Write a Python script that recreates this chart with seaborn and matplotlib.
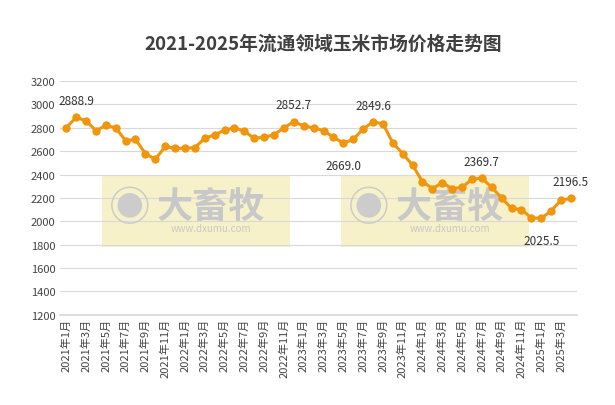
import matplotlib
matplotlib.use("Agg")
import matplotlib.pyplot as plt
import seaborn as sns
import pandas as pd
from matplotlib.patches import Rectangle

months = [f"{y}年{m}月" for y in range(2021, 2026) for m in range(1, 13)][:52]
prices = [2800, 2888.9, 2860, 2775, 2820, 2800, 2690, 2700, 2580, 2530, 2640, 2625, 2625,
          2630, 2710, 2740, 2780, 2800, 2770, 2710, 2720, 2740, 2800, 2852.7, 2815, 2800,
          2775, 2720, 2669.0, 2700, 2790, 2849.6, 2835, 2670, 2580, 2480, 2340, 2280, 2330,
          2280, 2290, 2360, 2369.7, 2290, 2200, 2110, 2100, 2030, 2025.5, 2090, 2180, 2196.5]
labels = {1: "2888.9", 23: "2852.7", 28: "2669.0", 31: "2849.6", 42: "2369.7", 48: "2025.5", 51: "2196.5"}
label_pos = {1: "above", 23: "above", 28: "below", 31: "above", 42: "above", 48: "below", 51: "above"}

sns.set_theme(style="white")
plt.rcParams['font.family'] = ['Noto Sans CJK SC', 'DejaVu Sans']

df = pd.DataFrame({"x": range(len(prices)), "price": prices})
fig = plt.figure(figsize=(6.15, 4.06), dpi=100)
ax = fig.add_axes([0.098, 0.222, 0.84, 0.576])

# watermarks
for x0 in [3.6, 27.8]:
    ax.add_patch(Rectangle((x0, 1780), 19, 620, color="#f5eebc", alpha=0.8, zorder=0.5, lw=0))
    ax.text(x0 + 2.8, 2110, "◉", fontsize=30, color="#cccccc", ha="center", va="center", zorder=0.6)
    ax.text(x0 + 11, 2130, "大畜牧", fontsize=26, color="#c8c8c8", ha="center", va="center", zorder=0.6, fontweight="bold")
    ax.text(x0 + 11, 1940, "www.dxumu.com", fontsize=7, color="#c8c8c8", ha="center", va="center", zorder=0.6)

sns.lineplot(data=df, x="x", y="price", ax=ax, color="#f0950c", lw=2.2, marker="o",
             markersize=6, markeredgewidth=0, zorder=3)

for i, t in labels.items():
    dy = 12 if label_pos[i] == "above" else -16
    ax.annotate(t, (i, prices[i]), xytext=(0, dy), textcoords="offset points",
                ha="center", va="center", fontsize=8.5, color="#333333")

ax.set_ylim(1200, 3200)
ax.set_yticks(range(1200, 3201, 200))
ax.set_xlim(-0.6, len(prices) - 0.4)
ax.set_xticks(range(0, len(prices), 2))
ax.set_xticklabels(months[::2], rotation=90, fontsize=8, color="#444444")
ax.tick_params(axis="y", labelsize=8, labelcolor="#444444", length=0)
ax.tick_params(axis="x", length=0, pad=2)
ax.yaxis.grid(True, color="#d9d9d9", lw=0.8)
ax.set_axisbelow(True)
for s in ["top", "right", "left"]:
    ax.spines[s].set_visible(False)
ax.spines["bottom"].set_color("#d9d9d9")
ax.set_xlabel("")
ax.set_ylabel("")
fig.suptitle("2021-2025年流通领域玉米市场价格走势图", x=0.525, y=0.915, fontsize=13.5, fontweight="bold", color="#404040")
fig.savefig("out.png", dpi=100, facecolor="white")
